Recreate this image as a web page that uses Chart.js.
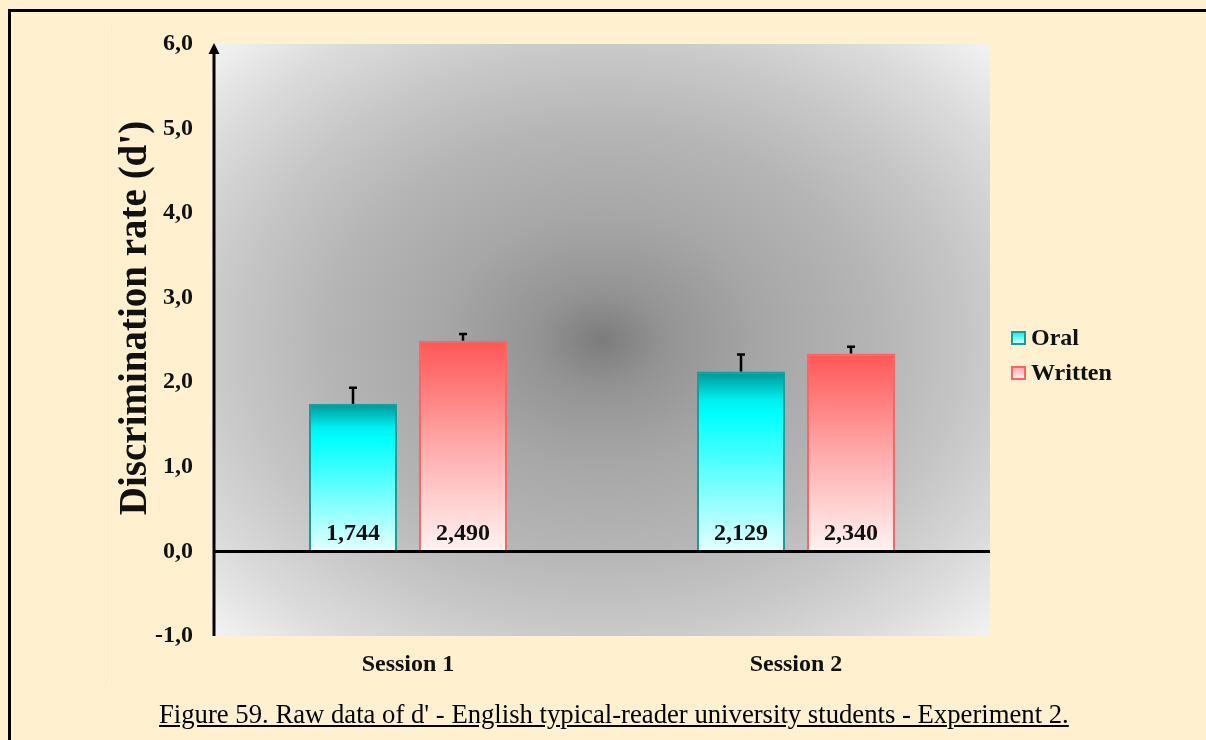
<!DOCTYPE html>
<html>
<head>
<meta charset="utf-8">
<script src="https://cdn.jsdelivr.net/npm/chart.js@4/dist/chart.umd.min.js"></script>
<style>
  html, body { margin: 0; padding: 0; background: #fff1cf; }
  body { width: 1206px; height: 740px; position: relative; overflow: hidden;
         font-family: "Liberation Serif", "Times New Roman", serif; }
  #frame { position: absolute; left: 8px; top: 9px; right: -10px; bottom: -10px;
           border-top: 3px solid #000; border-left: 3px solid #000; }
  #inner { position: absolute; left: 109px; top: 25px; width: 1px; height: 660px; background: #fffaee; }
  #wrap { position: absolute; left: 0; top: 0; width: 1206px; height: 740px; }
  #caption { position: absolute; left: 159px; top: 699px; font-size: 26.7px; color: #000;
             text-decoration: underline; white-space: nowrap; }
</style>
</head>
<body>
<div id="frame"></div>
<div id="inner"></div>
<div id="wrap"><canvas id="chart" width="1206" height="740"></canvas></div>
<div id="caption">Figure 59. Raw data of d' - English typical-reader university students - Experiment 2.</div>
<script>
// values
const categories = ['Session 1', 'Session 2'];
const seriesNames = ['Oral', 'Written'];
const oralValues = [1.744, 2.129];
const writtenValues = [2.490, 2.340];
const oralErrors = [0.19, 0.20];
const writtenErrors = [0.08, 0.08];
const yTicks = [-1, 0, 1, 2, 3, 4, 5, 6];
const yTitle = "Discrimination rate (d')";

const SERIF = '"Liberation Serif", "Times New Roman", serif';
const oralStops = [[0, '#009494'], [0.16, '#00f0f0'], [0.24, '#00ffff'], [1, '#e6ffff']];
const writtenStops = [[0, '#ff5656'], [0.5, '#ffaaaa'], [1, '#fff3f3']];

const fmt = (v, d) => v.toFixed(d).replace('.', ',');

function barGradient(stops) {
  return ctx => {
    const chart = ctx.chart;
    if (!chart.chartArea || ctx.type !== 'data') return stops[1][1];
    const y = chart.scales.y;
    const g = chart.ctx.createLinearGradient(0, y.getPixelForValue(ctx.raw), 0, y.getPixelForValue(0));
    stops.forEach(([o, c]) => g.addColorStop(o, c));
    return g;
  };
}

// grey "from centre" fill behind the plot
const plotBg = {
  id: 'plotBg',
  beforeDraw(chart) {
    const { ctx, chartArea: a } = chart;
    ctx.save();
    ctx.beginPath();
    ctx.rect(a.left, a.top, a.width, a.height);
    ctx.clip();
    ctx.translate(a.left + a.width / 2, a.top + a.height / 2);
    ctx.scale(1, a.height / a.width);
    const r = Math.hypot(a.width / 2, a.width / 2);
    const g = ctx.createRadialGradient(0, 0, 0, 0, 0, r);
    g.addColorStop(0, '#7c7c7c');
    g.addColorStop(0.12, '#949494');
    g.addColorStop(0.3, '#a7a7a7');
    g.addColorStop(0.5, '#b5b5b5');
    g.addColorStop(0.68, '#c7c7c7');
    g.addColorStop(0.85, '#dcdcdc');
    g.addColorStop(1, '#f3f3f3');
    ctx.fillStyle = g;
    ctx.fillRect(-a.width / 2, -a.width / 2, a.width, a.width);
    ctx.restore();
  }
};

const errorBars = {
  id: 'errorBars',
  afterDatasetsDraw(chart) {
    const { ctx } = chart;
    const y = chart.scales.y;
    ctx.save();
    ctx.strokeStyle = '#000';
    ctx.lineWidth = 2.5;
    chart.data.datasets.forEach((ds, di) => {
      chart.getDatasetMeta(di).data.forEach((bar, i) => {
        const top = y.getPixelForValue(ds.data[i] + ds.errors[i]);
        ctx.beginPath();
        ctx.moveTo(bar.x, bar.y);
        ctx.lineTo(bar.x, top);
        ctx.moveTo(bar.x - 4, top);
        ctx.lineTo(bar.x + 4, top);
        ctx.stroke();
      });
    });
    ctx.restore();
  }
};

const valueLabels = {
  id: 'valueLabels',
  afterDatasetsDraw(chart) {
    const { ctx } = chart;
    const base = chart.scales.y.getPixelForValue(0);
    ctx.save();
    ctx.font = 'bold 24px ' + SERIF;
    ctx.fillStyle = '#111';
    ctx.textAlign = 'center';
    ctx.textBaseline = 'middle';
    chart.data.datasets.forEach((ds, di) => {
      chart.getDatasetMeta(di).data.forEach((bar, i) => {
        ctx.fillText(fmt(ds.data[i], 3), bar.x, base - 18);
      });
    });
    ctx.restore();
  }
};

// axis arrow, rotated title and the legend on the right
const decorations = {
  id: 'decorations',
  afterDraw(chart) {
    const { ctx, chartArea: a } = chart;
    ctx.save();
    ctx.fillStyle = '#000';
    ctx.fillRect(a.left - 1.5, a.top + 8, 3, a.bottom - a.top - 8);
    ctx.beginPath();
    ctx.moveTo(a.left, a.top - 1);
    ctx.lineTo(a.left - 5.5, a.top + 10);
    ctx.lineTo(a.left + 5.5, a.top + 10);
    ctx.closePath();
    ctx.fill();

    ctx.translate(136, 318);
    ctx.rotate(-Math.PI / 2);
    ctx.font = 'bold 39px ' + SERIF;
    ctx.fillStyle = '#111';
    ctx.textAlign = 'center';
    ctx.textBaseline = 'middle';
    ctx.fillText(yTitle, 0, 0);
    ctx.restore();

    ctx.save();
    ctx.font = 'bold 24px ' + SERIF;
    ctx.textBaseline = 'middle';
    chart.data.datasets.forEach((ds, i) => {
      const cy = 338 + i * 35;
      const stops = ds.legendStops;
      const g = ctx.createLinearGradient(0, cy - 6, 0, cy + 6);
      g.addColorStop(0, stops[1][1]);
      g.addColorStop(1, stops[stops.length - 1][1]);
      ctx.fillStyle = g;
      ctx.fillRect(1012, cy - 6, 13, 12);
      ctx.strokeStyle = ds.borderColor;
      ctx.lineWidth = 2;
      ctx.strokeRect(1012, cy - 6, 13, 12);
      ctx.fillStyle = '#111';
      ctx.fillText(ds.label, 1031, cy + 1);
    });
    ctx.restore();
  }
};

new Chart(document.getElementById('chart'), {
  type: 'bar',
  data: {
    labels: categories,
    datasets: [{
      label: seriesNames[0],
      data: oralValues,
      errors: oralErrors,
      legendStops: oralStops,
      backgroundColor: barGradient(oralStops),
      borderColor: '#1a9c9c',
      borderWidth: 2,
      borderSkipped: 'start'
    }, {
      label: seriesNames[1],
      data: writtenValues,
      errors: writtenErrors,
      legendStops: writtenStops,
      backgroundColor: barGradient(writtenStops),
      borderColor: '#ff6464',
      borderWidth: 2,
      borderSkipped: 'start'
    }]
  },
  options: {
    responsive: false,
    animation: false,
    devicePixelRatio: 1,
    barPercentage: 0.8,
    categoryPercentage: 0.567,
    layout: { padding: { left: 100, right: 216, top: 44, bottom: 54 } },
    plugins: {
      legend: { display: false },
      tooltip: { enabled: false }
    },
    scales: {
      x: {
        grid: { display: false, drawTicks: false },
        border: { display: false },
        ticks: { color: '#111', padding: 14, font: { family: SERIF, size: 24, weight: 'bold' } },
        afterFit: s => { s.height = 50; }
      },
      y: {
        min: yTicks[0],
        max: yTicks[yTicks.length - 1],
        grid: {
          drawTicks: false,
          color: c => c.tick && c.tick.value === 0 ? '#000' : 'rgba(0,0,0,0)',
          lineWidth: 3
        },
        border: { display: false },
        ticks: {
          stepSize: 1,
          padding: 21,
          color: '#111',
          font: { family: SERIF, size: 24, weight: 'bold' },
          callback: v => fmt(v, 1)
        },
        afterFit: s => { s.width = 114; }
      }
    }
  },
  plugins: [plotBg, errorBars, valueLabels, decorations]
});
</script>
</body>
</html>
